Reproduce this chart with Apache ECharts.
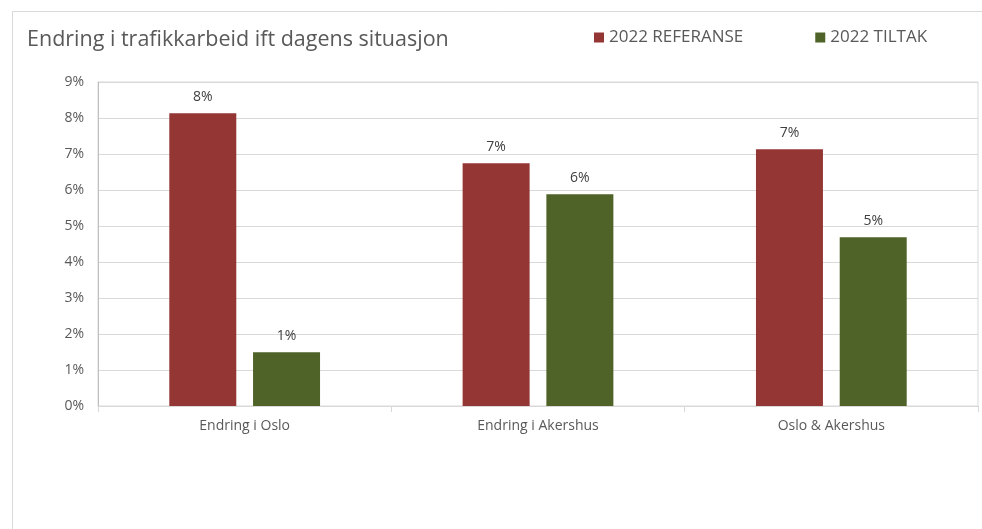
<!DOCTYPE html>
<html>
<head>
<meta charset="utf-8">
<script src="https://cdn.jsdelivr.net/npm/echarts@6/dist/echarts.min.js"></script>
<style>
html,body{margin:0;padding:0;background:#fff;}
#c{width:982px;height:529px;}
</style>
</head>
<body>
<div id="c"></div>
<script>
const categories = ['Endring i Oslo', 'Endring i Akershus', 'Oslo & Akershus'];
const seriesNames = ['2022 REFERANSE', '2022 TILTAK'];
const referanse = [8.13, 6.74, 7.13];
const tiltak = [1.49, 5.88, 4.69];
const yTicks = { min: 0, max: 9, interval: 1 };

const chart = echarts.init(document.getElementById('c'), null, { renderer: 'canvas' });
const FONT = 'Open Sans';
const labelCfg = {
  show: true, position: 'top', distance: 9,
  color: '#404040', fontFamily: FONT, fontSize: 14,
  formatter: p => Math.round(p.value) + '%'
};
chart.setOption({
  backgroundColor: '#ffffff',
  animation: false,
  title: {
    text: 'Endring i trafikkarbeid ift dagens situasjon',
    left: 22, top: 24,
    textStyle: { color: '#595959', fontFamily: FONT, fontSize: 21.5, fontWeight: 'normal' }
  },
  legend: {
    data: seriesNames,
    left: 589, top: 24,
    itemWidth: 10, itemHeight: 10, itemGap: 72,
    icon: 'rect',
    textStyle: { color: '#595959', fontFamily: FONT, fontSize: 17 }
  },
  graphic: [{
    type: 'rect', silent: true, z: -1,
    shape: { x: 12.5, y: 11.5, width: 1000, height: 600 },
    style: { fill: 'none', stroke: '#d9d9d9', lineWidth: 1 }
  }],
  grid: {
    left: 98, right: 4, top: 82, bottom: 123,
    show: true, borderColor: '#d9d9d9', borderWidth: 1
  },
  xAxis: {
    type: 'category', data: categories,
    axisLine: { lineStyle: { color: '#d9d9d9' } },
    axisTick: { show: true, length: 6, lineStyle: { color: '#d9d9d9' } },
    axisLabel: { color: '#595959', fontFamily: FONT, fontSize: 14, margin: 13 }
  },
  yAxis: {
    type: 'value', min: yTicks.min, max: yTicks.max, interval: yTicks.interval,
    axisLine: { show: true, lineStyle: { color: '#bfbfbf' } },
    axisTick: { show: false },
    axisLabel: { color: '#595959', fontFamily: FONT, fontSize: 14, margin: 14, formatter: '{value}%' },
    splitLine: { lineStyle: { color: '#d9d9d9' } }
  },
  series: [
    { name: seriesNames[0], type: 'bar', data: referanse, barWidth: 67, barGap: '25%',
      itemStyle: { color: '#943634' }, label: labelCfg },
    { name: seriesNames[1], type: 'bar', data: tiltak, barWidth: 67, barGap: '25%',
      itemStyle: { color: '#4F6228' }, label: labelCfg }
  ]
});
</script>
</body>
</html>
